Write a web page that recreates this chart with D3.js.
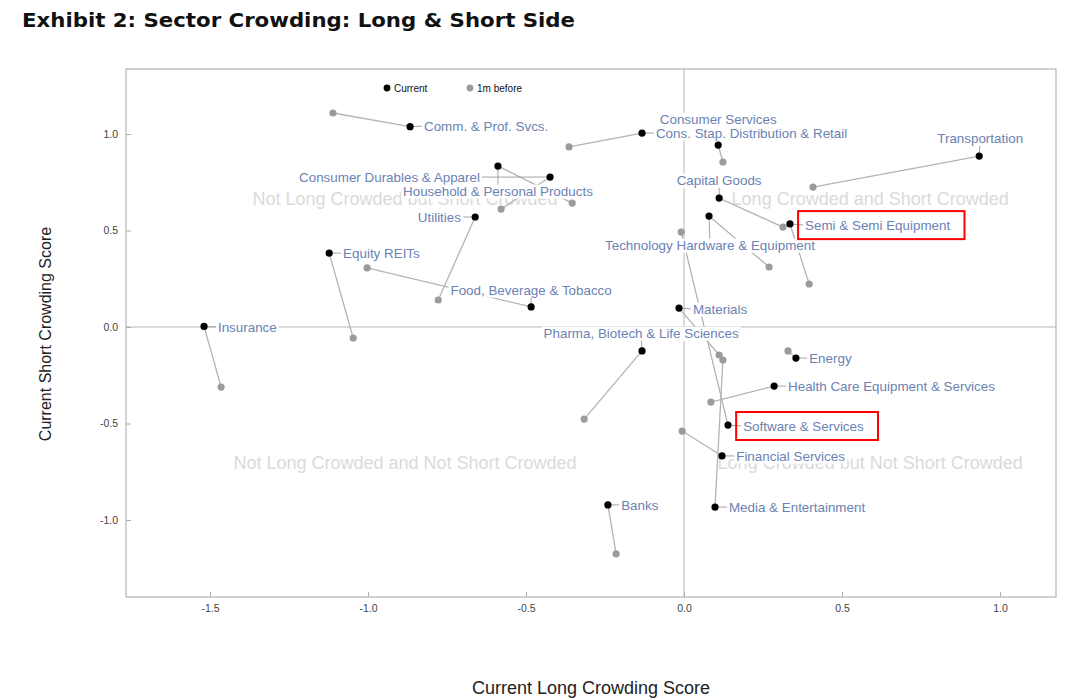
<!DOCTYPE html>
<html>
<head>
<meta charset="utf-8">
<script src="https://cdn.jsdelivr.net/npm/d3@7"></script>
<style>
  body { margin: 0; background: #fff; }
  svg { display: block; font-family: "Liberation Sans", Arial, sans-serif; }
</style>
</head>
<body>
<svg id="chart" width="1080" height="700"></svg>
<script>
// Daten
const sectors = [
  "Comm. & Prof. Svcs.", "Consumer Durables & Apparel", "Household & Personal Products",
  "Utilities", "Equity REITs", "Food, Beverage & Tobacco", "Insurance",
  "Pharma, Biotech & Life Sciences", "Banks", "Consumer Services",
  "Cons. Stap. Distribution & Retail", "Transportation", "Capital Goods",
  "Semi & Semi Equipment", "Technology Hardware & Equipment", "Materials", "Energy",
  "Health Care Equipment & Services", "Software & Services", "Financial Services",
  "Media & Entertainment"
];
const longNow   = [-0.867, -0.424, -0.589, -0.661, -1.123, -0.484, -1.519, -0.133, -0.241, 0.108, -0.133, 0.934, 0.111, 0.335, 0.079, -0.016, 0.354, 0.285, 0.139, 0.120, 0.098];
const shortNow  = [1.038, 0.777, 0.834, 0.570, 0.383, 0.104, 0.003, -0.124, -0.922, 0.943, 1.005, 0.886, 0.668, 0.534, 0.575, 0.098, -0.161, -0.306, -0.508, -0.668, -0.933];
const longPrev  = [-1.111, -0.579, -0.354, -0.778, -1.047, -1.003, -1.465, -0.316, -0.215, 0.123, -0.364, 0.408, 0.313, 0.396, 0.269, 0.111, 0.329, 0.085, -0.009, -0.006, 0.123];
const shortPrev = [1.109, 0.611, 0.642, 0.140, -0.057, 0.306, -0.311, -0.477, -1.176, 0.855, 0.933, 0.725, 0.518, 0.223, 0.311, -0.145, -0.124, -0.389, 0.492, -0.539, -0.171];

// Label-Positionen (wie ggrepel sie gesetzt hat), in Dateneinheiten
const labelLong  = [-0.823, -0.646, -0.589, -0.706, -1.079, -0.484, -1.475, -0.136, -0.199, 0.108, -0.089, 0.937, 0.111, 0.383, 0.082, 0.028, 0.396, 0.329, 0.187, 0.165, 0.142];
const labelShort = [1.041, 0.777, 0.705, 0.570, 0.383, 0.192, 0.0, -0.031, -0.922, 1.078, 1.005, 0.979, 0.762, 0.528, 0.425, 0.093, -0.161, -0.306, -0.513, -0.668, -0.933];
const labelAnchor = ["start", "end", "middle", "end", "start", "middle", "start", "middle", "start", "middle", "start", "middle", "middle", "start", "middle", "start", "start", "start", "start", "start", "start"];

const highlighted = ["Semi & Semi Equipment", "Software & Services"];

const quadrants = [
  { text: "Not Long Crowded but Short Crowded", x: -0.883, y: 0.663 },
  { text: "Long Crowded and Short Crowded", x: 0.589, y: 0.663 },
  { text: "Not Long Crowded and Not Short Crowded", x: -0.883, y: -0.705 },
  { text: "Long Crowded but Not Short Crowded", x: 0.589, y: -0.705 }
];

const xTicks = [-1.5, -1.0, -0.5, 0.0, 0.5, 1.0];
const yTicks = [-1.0, -0.5, 0.0, 0.5, 1.0];

const sectorData = sectors.map((name, i) => ({
  name,
  x: longNow[i], y: shortNow[i],
  px: longPrev[i], py: shortPrev[i],
  lx: labelLong[i], ly: labelShort[i], anchor: labelAnchor[i]
}));

// Aufbau
const svg = d3.select("#chart");
const plot = { left: 126, right: 1056, top: 69, bottom: 597 };

const xScale = d3.scaleLinear().domain([-1.766, 1.177]).range([plot.left, plot.right]);
const yScale = d3.scaleLinear().domain([-1.399, 1.337]).range([plot.bottom, plot.top]);

svg.append("text")
  .attr("x", 22).attr("y", 27)
  .attr("textLength", 553).attr("lengthAdjust", "spacingAndGlyphs")
  .style("font-family", "'DejaVu Sans', sans-serif")
  .style("font-weight", 700)
  .style("font-size", "20px")
  .style("fill", "#111")
  .text("Exhibit 2: Sector Crowding: Long & Short Side");

// Quadranten-Texte
svg.append("g").selectAll("text")
  .data(quadrants)
  .enter().append("text")
  .attr("x", d => xScale(d.x))
  .attr("y", d => yScale(d.y))
  .attr("dy", "0.35em")
  .attr("text-anchor", "middle")
  .style("font-size", "18px")
  .style("fill", "#dadada")
  .text(d => d.text);

// Nulllinien
svg.append("line")
  .attr("x1", xScale(0)).attr("x2", xScale(0))
  .attr("y1", plot.top).attr("y2", plot.bottom)
  .style("stroke", "#cfcfcf").style("stroke-width", 1.5);
svg.append("line")
  .attr("x1", plot.left).attr("x2", plot.right)
  .attr("y1", yScale(0)).attr("y2", yScale(0))
  .style("stroke", "#cfcfcf").style("stroke-width", 1.5);

// Achsen (Ticks nach innen)
const xAxisG = svg.append("g")
  .attr("transform", `translate(0,${plot.bottom})`)
  .call(d3.axisBottom(xScale).tickValues(xTicks).tickSizeInner(-5).tickSizeOuter(0).tickPadding(8));
const yAxisG = svg.append("g")
  .attr("transform", `translate(${plot.left},0)`)
  .call(d3.axisLeft(yScale).tickValues(yTicks).tickSizeInner(-5).tickSizeOuter(0).tickPadding(8));

[xAxisG, yAxisG].forEach(g => {
  g.selectAll(".domain").remove();
  g.selectAll("line").style("stroke", "#aaa");
  g.selectAll("text")
    .style("font-family", "'Liberation Sans', Arial, sans-serif")
    .style("font-size", "10.5px")
    .style("fill", "#444")
    .text(d => d3.format(".1f")(d).replace("−", "-"));
});

svg.append("rect")
  .attr("x", plot.left).attr("y", plot.top)
  .attr("width", plot.right - plot.left).attr("height", plot.bottom - plot.top)
  .style("fill", "none").style("stroke", "#b5b5b5").style("stroke-width", 1.2);

// Verbindung aktuell -> vor 1 Monat
const marks = svg.append("g");
marks.selectAll(".move")
  .data(sectorData)
  .enter().append("line")
  .attr("class", "move")
  .attr("x1", d => xScale(d.x)).attr("y1", d => yScale(d.y))
  .attr("x2", d => xScale(d.px)).attr("y2", d => yScale(d.py))
  .style("stroke", "#b4b4b4").style("stroke-width", 1.3);

// Label-Verbinder
marks.selectAll(".connector")
  .data(sectorData)
  .enter().append("line")
  .attr("class", "connector")
  .attr("x1", d => xScale(d.x)).attr("y1", d => yScale(d.y))
  .attr("x2", d => xScale(d.lx)).attr("y2", d => yScale(d.ly))
  .style("stroke", "#9a9a9a").style("stroke-width", 0.9);

// Labels mit weißem Hintergrund
const labelG = svg.append("g");
const labels = labelG.selectAll(".label")
  .data(sectorData)
  .enter().append("g")
  .attr("class", "label");

labels.append("rect").attr("class", "labelBG").style("fill", "#fff");
labels.append("text")
  .attr("x", d => xScale(d.lx))
  .attr("y", d => yScale(d.ly))
  .attr("dy", "0.35em")
  .attr("text-anchor", d => d.anchor)
  .style("font-size", "13.4px")
  .style("fill", "#6b82b3")
  .text(d => d.name);

labels.each(function (d) {
  const g = d3.select(this);
  const bb = g.select("text").node().getBBox();
  g.select("rect")
    .attr("x", bb.x - 2).attr("y", bb.y + 1)
    .attr("width", bb.width + 4).attr("height", bb.height - 1);
  if (highlighted.includes(d.name)) {
    svg.append("rect")
      .attr("x", bb.x - 7).attr("y", yScale(d.ly) - 14)
      .attr("width", bb.width + 21).attr("height", 28)
      .style("fill", "none").style("stroke", "#f00").style("stroke-width", 2);
  }
});

// Punkte
const dots = svg.append("g");
dots.selectAll(".prev")
  .data(sectorData)
  .enter().append("circle")
  .attr("cx", d => xScale(d.px)).attr("cy", d => yScale(d.py))
  .attr("r", 3.6).style("fill", "#9b9b9b");
dots.selectAll(".now")
  .data(sectorData)
  .enter().append("circle")
  .attr("cx", d => xScale(d.x)).attr("cy", d => yScale(d.y))
  .attr("r", 3.6).style("fill", "#000");

// Legende
const legend = svg.append("g").attr("transform", "translate(387,88)");
[{ t: "Current", c: "#000", dx: 0 }, { t: "1m before", c: "#9b9b9b", dx: 83 }].forEach(l => {
  legend.append("circle").attr("cx", l.dx).attr("cy", 0).attr("r", 3.4).style("fill", l.c);
  legend.append("text").attr("x", l.dx + 7).attr("y", 0).attr("dy", "0.35em")
    .style("font-size", "10px").style("fill", "#111").text(l.t);
});

// Achsentitel
svg.append("text")
  .attr("x", (plot.left + plot.right) / 2).attr("y", 688).attr("dy", "0.35em")
  .attr("text-anchor", "middle")
  .style("font-size", "18px").style("fill", "#222")
  .text("Current Long Crowding Score");
svg.append("text")
  .attr("transform", "translate(45,334) rotate(-90)")
  .attr("dy", "0.35em")
  .attr("text-anchor", "middle")
  .style("font-size", "16px").style("fill", "#222")
  .text("Current Short Crowding Score");
</script>
</body>
</html>
